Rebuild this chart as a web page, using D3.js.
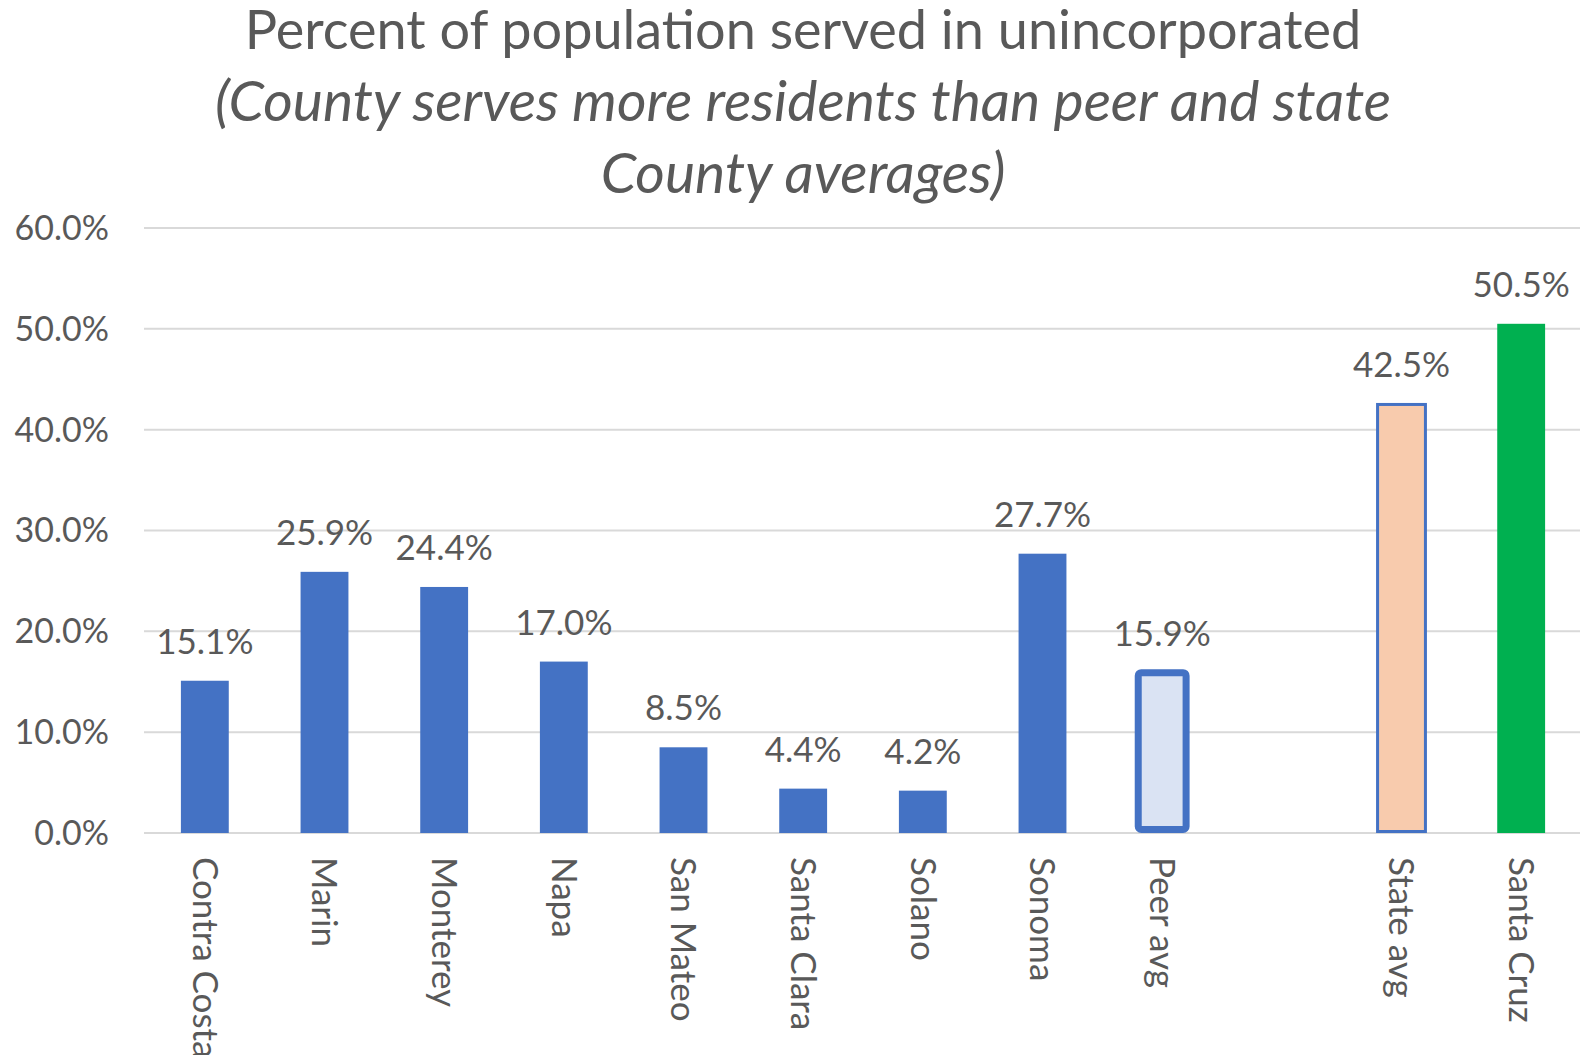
<!DOCTYPE html>
<html>
<head>
<meta charset="utf-8">
<script src="https://cdn.jsdelivr.net/npm/d3@7"></script>
<style>
  body { margin: 0; background: #fff; }
  text { font-family: Lato, "Open Sans", sans-serif; fill: #595959; }
</style>
</head>
<body>
<svg id="chart" width="1580" height="1055"></svg>
<script>
// data
var categories = ["Contra Costa", "Marin", "Monterey", "Napa", "San Mateo", "Santa Clara", "Solano", "Sonoma", "Peer avg", "", "State avg", "Santa Cruz"];
var values = [15.1, 25.9, 24.4, 17.0, 8.5, 4.4, 4.2, 27.7, 15.9, null, 42.5, 50.5];
var yTicks = [0, 10, 20, 30, 40, 50, 60];
var titleLines = ["Percent of population served in unincorporated", "(County serves more residents than peer and state", "County averages)"];

var width = 1580, height = 1055;
var plotLeft = 145, plotRight = 1581, plotTop = 228, plotBottom = 833;

var svg = d3.select("#chart");

var x = d3.scaleBand().domain(d3.range(categories.length)).range([plotLeft, plotRight]).paddingInner(0.6).paddingOuter(0.3);
var y = d3.scaleLinear().domain([0, 60]).range([plotBottom, plotTop]);

function barStyle(i) {
    var name = categories[i];
    if (name == "Peer avg") return {fill: "#dae3f3", stroke: "#4472c4", sw: 7};
    if (name == "State avg") return {fill: "#f8cbad", stroke: "#4472c4", sw: 3};
    if (name == "Santa Cruz") return {fill: "#00b050", stroke: "none", sw: 0};
    return {fill: "#4472c4", stroke: "none", sw: 0};
}

// gridlines
svg.append("g").selectAll("line").data(yTicks).enter().append("line")
    .attr("x1", 144).attr("x2", width)
    .attr("y1", function(d) { return y(d); })
    .attr("y2", function(d) { return y(d); })
    .attr("stroke", "#d9d9d9").attr("stroke-width", 2);

// y axis labels
svg.append("g").selectAll("text").data(yTicks).enter().append("text")
    .attr("x", 109).attr("y", function(d) { return y(d); })
    .attr("dy", "0.35em").attr("text-anchor", "end")
    .style("font-size", "34px")
    .text(function(d) { return d.toFixed(1) + "%"; });

var idx = d3.range(categories.length).filter(function(i) { return values[i] != null; });

// bars (border straddles the bar edge, like the spreadsheet)
svg.append("g").selectAll("rect").data(idx).enter().append("rect")
    .attr("x", function(i) { return x(i); })
    .attr("width", x.bandwidth())
    .attr("y", function(i) { return y(values[i]); })
    .attr("height", function(i) { var s = barStyle(i); return y(0) - y(values[i]) - s.sw / 2; })
    .attr("rx", function(i) { return categories[i] == "Peer avg" ? 3 : 0; })
    .attr("fill", function(i) { return barStyle(i).fill; })
    .attr("stroke", function(i) { return barStyle(i).stroke; })
    .attr("stroke-width", function(i) { return barStyle(i).sw; });

// value labels
svg.append("g").selectAll("text").data(idx).enter().append("text")
    .attr("x", function(i) { return x(i) + x.bandwidth() / 2; })
    .attr("y", function(i) { return y(values[i]) - 27; })
    .attr("text-anchor", "middle")
    .style("font-size", "35px")
    .text(function(i) { return values[i].toFixed(1) + "%"; });

// category labels
svg.append("g").selectAll("text").data(idx).enter().append("text")
    .attr("transform", function(i) { return "translate(" + (x(i) + x.bandwidth() / 2) + "," + (plotBottom + 24) + ") rotate(90)"; })
    .attr("dy", "0.35em")
    .style("font-size", "35px")
    .text(function(i) { return categories[i]; });

// title
svg.append("g").selectAll("text").data(titleLines).enter().append("text")
    .attr("x", 803).attr("y", function(d, i) { return 49 + i * 72; })
    .attr("text-anchor", "middle")
    .style("font-size", function(d, i) { return i > 0 ? "57px" : "54px"; })
    .style("font-style", function(d, i) { return i > 0 ? "italic" : "normal"; })
    .text(function(d) { return d; });
</script>
</body>
</html>
